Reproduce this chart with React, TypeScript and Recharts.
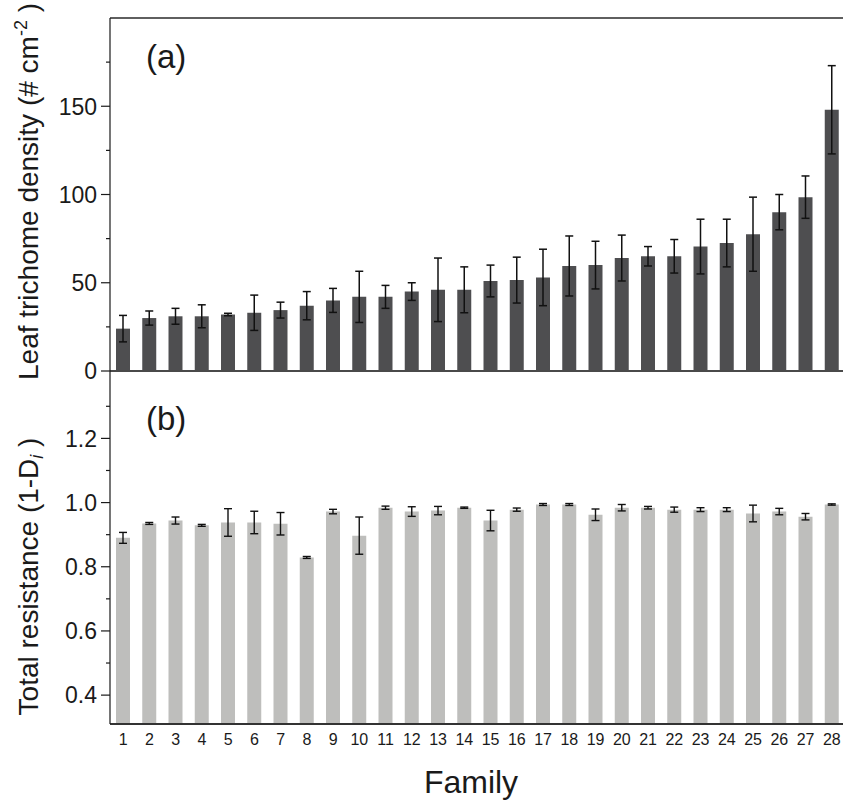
import React from 'react';
import { BarChart, Bar, XAxis, YAxis, ErrorBar, ReferenceLine, Label } from 'recharts';

// families on the x axis
const families = ['1', '2', '3', '4', '5', '6', '7', '8', '9', '10', '11', '12', '13', '14',
  '15', '16', '17', '18', '19', '20', '21', '22', '23', '24', '25', '26', '27', '28'];

// (a) leaf trichome density, mean and error
const density = [24, 30, 31, 31, 32, 33, 34.5, 37, 40, 42, 42, 45, 46, 46,
  51, 51.5, 53, 59.5, 60, 64, 65, 65, 70.5, 72.5, 77.5, 90, 98.5, 148];
const densityErr = [7.5, 4, 4.5, 6.5, 0.7, 10, 4.5, 8, 6.8, 14.5, 6.5, 5, 18, 13,
  9, 13, 16, 17, 13.5, 13, 5.5, 9.5, 15.5, 13.5, 21, 10, 12, 25];

// (b) total resistance (1-Di), mean and error
const resistance = [0.89, 0.935, 0.944, 0.929, 0.938, 0.938, 0.934, 0.829, 0.972, 0.897, 0.984, 0.972, 0.975, 0.984,
  0.944, 0.978, 0.994, 0.994, 0.962, 0.984, 0.984, 0.978, 0.978, 0.978, 0.966, 0.972, 0.956, 0.994];
const resistanceErr = [0.017, 0.003, 0.011, 0.003, 0.043, 0.035, 0.035, 0.003, 0.007, 0.058, 0.005, 0.015, 0.013, 0.002,
  0.032, 0.005, 0.003, 0.003, 0.018, 0.01, 0.004, 0.008, 0.006, 0.006, 0.026, 0.01, 0.01, 0.002];

// y axis ticks (all = major + minor)
const densityTicks = [0, 25, 50, 75, 100, 125, 150, 175];
const densityMajor = [0, 50, 100, 150];
const resistanceTicks = [0.4, 0.5, 0.6, 0.7, 0.8, 0.9, 1.0, 1.1, 1.2, 1.3];
const resistanceMajor = [0.4, 0.6, 0.8, 1.0, 1.2];

const topData = families.map((f, i) => ({ family: f, density: density[i], err: densityErr[i] }));
const bottomData = families.map((f, i) => ({ family: f, resistance: resistance[i], err: resistanceErr[i] }));

const FONT = '"Liberation Sans", Arial, Helvetica, sans-serif';
const INK = '#1a1a1a';

function axisTick(majors: number[], digits: number) {
  return (props: any) => {
    const { x, y, payload } = props;
    const isMajor = majors.includes(payload.value);
    return (
      <g>
        <line x1={x - (isMajor ? 9 : 4)} x2={x} y1={y} y2={y} stroke={INK} strokeWidth={1.2} />
        {isMajor && (
          <text x={x - 13} y={y} dy="0.36em" textAnchor="end" fontSize={23} fontFamily={FONT} fill={INK}>
            {Number(payload.value).toFixed(digits)}
          </text>
        )}
      </g>
    );
  };
}

const topTitle = (props: any) => {
  const vb = props.viewBox ?? { x: 0, y: 18, width: 110, height: 353 };
  const cx = vb.x + 38;
  const cy = vb.y + vb.height / 2 - 3;
  return (
    <text x={cx} y={cy} transform={`rotate(-90 ${cx} ${cy})`} textAnchor="middle"
      fontSize={28} fontFamily={FONT} fill={INK}>
      Leaf trichome density (# cm<tspan dy={-11} fontSize={18}>-2</tspan><tspan dy={11}> )</tspan>
    </text>
  );
};

const bottomTitle = (props: any) => {
  const vb = props.viewBox ?? { x: 0, y: 371, width: 110, height: 353 };
  const cx = vb.x + 38;
  const cy = vb.y + vb.height / 2 + 29;
  return (
    <text x={cx} y={cy} transform={`rotate(-90 ${cx} ${cy})`} textAnchor="middle"
      fontSize={28} fontFamily={FONT} fill={INK}>
      Total resistance (1-D<tspan dy={5} fontSize={18} fontStyle="italic">i</tspan><tspan dy={-5}> )</tspan>
    </text>
  );
};

const familyLabel = (props: any) => {
  const vb = props.viewBox ?? { x: 110, y: 724, width: 735, height: 60 };
  return (
    <text x={471} y={vb.y + 69} textAnchor="middle" fontSize={32} fontFamily={FONT} fill={INK}>
      Family
    </text>
  );
};

export default function App() {
  return (
    <div style={{ position: 'absolute', left: 0, top: 0, width: 843, height: 801, overflow: 'hidden', background: '#fff' }}>
      {/* (a) trichome density */}
      <div style={{ position: 'absolute', left: 0, top: 0 }}>
        <BarChart width={845} height={386} data={topData} margin={{ top: 18, right: 0, bottom: 15, left: 0 }} barSize={14}>
          <XAxis dataKey="family" hide />
          <YAxis
            domain={[0, 200]}
            ticks={densityTicks}
            width={110}
            tickSize={0}
            tickMargin={0}
            tickLine={false}
            axisLine={{ stroke: INK, strokeWidth: 1.2 }}
            tick={axisTick(densityMajor, 0)}
            interval={0}
          >
            <Label content={topTitle} />
          </YAxis>
          <Bar dataKey="density" fill="#4e4e50" isAnimationActive={false}>
            <ErrorBar dataKey="err" width={4} stroke="#111" strokeWidth={1.5} isAnimationActive={false} />
          </Bar>
          <ReferenceLine y={200} stroke="#2a2a2a" strokeWidth={1.5} />
          <ReferenceLine y={0} stroke="#4a4a4a" strokeWidth={2} />
        </BarChart>
      </div>

      {/* (b) total resistance */}
      <div style={{ position: 'absolute', left: 0, top: 360 }}>
        <BarChart width={845} height={441} data={bottomData} margin={{ top: 11, right: 0, bottom: 17, left: 0 }} barSize={14}>
          <XAxis
            dataKey="family"
            height={60}
            interval={0}
            tickLine={false}
            tickSize={0}
            tickMargin={10}
            axisLine={{ stroke: '#333', strokeWidth: 2 }}
            tick={{ fontSize: 16, fontFamily: FONT, fill: INK }}
          >
            <Label content={familyLabel} />
          </XAxis>
          <YAxis
            domain={[0.31, 1.41]}
            ticks={resistanceTicks}
            width={110}
            tickSize={0}
            tickMargin={0}
            tickLine={false}
            axisLine={{ stroke: INK, strokeWidth: 1.2 }}
            tick={axisTick(resistanceMajor, 1)}
            interval={0}
          >
            <Label content={bottomTitle} />
          </YAxis>
          <Bar dataKey="resistance" fill="#bebebc" isAnimationActive={false}>
            <ErrorBar dataKey="err" width={4} stroke="#111" strokeWidth={1.4} isAnimationActive={false} />
          </Bar>
        </BarChart>
      </div>

      {/* panel letters */}
      <svg width={843} height={801} style={{ position: 'absolute', left: 0, top: 0, pointerEvents: 'none' }}>
        <text x={146} y={68} fontSize={33} fontFamily={FONT} fill={INK}>(a)</text>
        <text x={146} y={430} fontSize={33} fontFamily={FONT} fill={INK}>(b)</text>
      </svg>
    </div>
  );
}
